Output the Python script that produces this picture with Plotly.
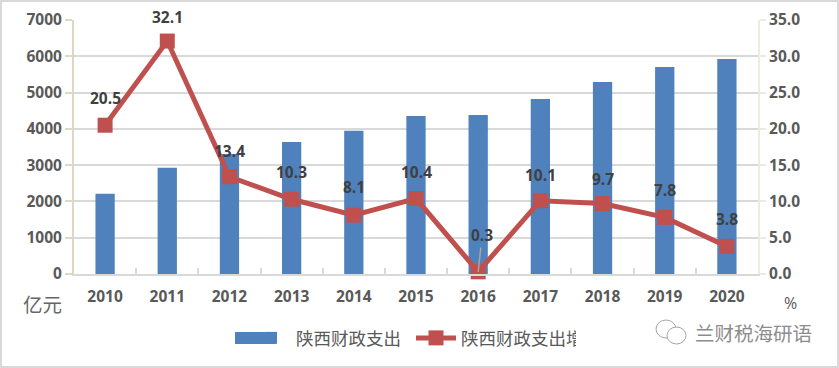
import plotly.graph_objects as go

W, H = 839, 368
years = ["2010","2011","2012","2013","2014","2015","2016","2017","2018","2019","2020"]
spending = [2210, 2930, 3310, 3640, 3945, 4357, 4385, 4825, 5293, 5706, 5927]
growth = [20.5, 32.1, 13.4, 10.3, 8.1, 10.4, 0.3, 10.1, 9.7, 7.8, 3.8]
label_shift = [27, 24, 26, 27, 28, 27, 37, 26, 25, 27, 27]
name_bar = "陕西财政支出"
name_line = "陕西财政支出增长率"

L, R, T, B = 74, 81, 20, 94
pw, ph = W - L - R, H - T - B
px = lambda v: (v - L) / pw
py = lambda v: (H - B - v) / ph

LAT = "'Open Sans', sans-serif"
CJK = "'Noto Sans CJK SC', sans-serif"
TICK = dict(family=LAT, size=15.5, color="#595959", weight="bold")
LAB = dict(family=LAT, size=15.5, color="#404040", weight="bold")

fig = go.Figure()
fig.add_bar(x=years, y=spending, name=name_bar, marker=dict(color="#4F81BD", line_width=0), yaxis="y")
fig.add_scatter(x=years, y=growth, name=name_line, yaxis="y2", mode="lines+markers", cliponaxis=False,
                line=dict(color="#C0504D", width=5),
                marker=dict(symbol="square", size=15, color="#C0504D"))

anns = []
for i, (yr, g, s) in enumerate(zip(years, growth, label_shift)):
    if yr == "2016":
        anns.append(dict(x=i, y=g, xref="x", yref="y2", text=str(g), showarrow=True, arrowhead=0,
                         arrowcolor="#A6A6A6", arrowwidth=1.5, ax=4, ay=-s, standoff=0, font=LAB))
    else:
        anns.append(dict(x=i, y=g, xref="x", yref="y2", text=str(g), showarrow=False, yshift=s, font=LAB))
anns += [
    dict(xref="paper", yref="paper", x=px(42.5), y=py(303), xanchor="center", yanchor="middle", text="亿元",
         showarrow=False, font=dict(family=CJK, size=19.5, color="#666666")),
    dict(xref="paper", yref="paper", x=px(790), y=py(303), xanchor="center", yanchor="middle", text="%",
         showarrow=False, font=dict(family=LAT, size=16, color="#595959")),
    dict(xref="paper", yref="paper", x=px(753), y=py(332), xanchor="center", yanchor="middle", text="兰财税海研语",
         showarrow=False, font=dict(family=CJK, size=19.5, color="#8C8C8C")),
]

def circle(x0, y0, x1, y1, color="#A6A6A6"):
    return dict(type="circle", xref="paper", yref="paper", x0=px(x0), x1=px(x1), y0=py(y1), y1=py(y0),
                line=dict(color=color, width=1), fillcolor="white", layer="above")

shapes = [
    dict(type="rect", xref="paper", yref="paper", x0=px(1), x1=px(W - 1), y0=py(H - 1), y1=py(1),
         line=dict(color="#D9D9D9", width=2), layer="below"),
    dict(type="rect", xref="paper", yref="paper", x0=px(235), x1=px(275), y0=py(344), y1=py(332),
         line_width=0, fillcolor="#4F81BD", layer="above"),
    circle(656, 320, 676, 338),
    circle(667, 327, 686, 344),
]

fig.update_layout(
    width=W, height=H, autosize=False, paper_bgcolor="white", plot_bgcolor="white",
    margin=dict(l=L, r=R, t=T, b=B, pad=0),
    bargap=0.69,
    annotations=anns, shapes=shapes,
    legend=dict(orientation="h", xref="container", yref="container", x=246 / W, y=1 - 338 / H,
                xanchor="left", yanchor="middle", entrywidth=110, entrywidthmode="pixels",
                font=dict(family=CJK, size=17.5, color="#595959"), itemwidth=40,
                bgcolor="rgba(0,0,0,0)", traceorder="normal"),
    xaxis=dict(type="category", range=[-0.5, 10.5], tickson="boundaries", ticks="inside", ticklen=6, tickwidth=2,
               tickcolor="#D9D9D9", showline=True, linecolor="#D9D9D9", linewidth=2, automargin=False,
               ticklabelstandoff=7, showgrid=False, tickangle=0, tickfont=TICK),
    yaxis=dict(range=[0, 7000], dtick=1000, showgrid=True, gridcolor="#D9D9D9", gridwidth=2,
               zeroline=False, showline=True, linecolor="#DDD8C3", linewidth=2, automargin=False,
               ticks="outside", ticklen=7, tickwidth=2, tickcolor="#DDD8C3", tickfont=TICK),
    yaxis2=dict(range=[0, 35], dtick=5, tickformat=".1f", overlaying="y", side="right", showgrid=False,
                zeroline=False, showline=True, linecolor="#EEECE1", linewidth=2, automargin=False,
                ticks="outside", ticklen=6, tickwidth=2, tickcolor="#EEECE1", tickfont=TICK),
)
fig.write_html("out.html", config=dict(displayModeBar=False),
               post_script="document.body.style.margin='0';document.body.style.overflow='hidden';")
